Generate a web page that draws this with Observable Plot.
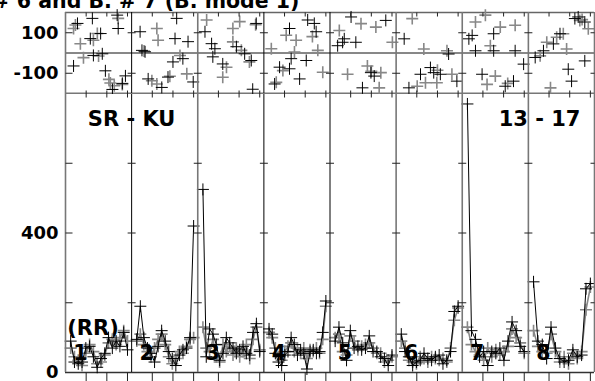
<!DOCTYPE html>
<html><head><meta charset="utf-8">
<script src="https://cdn.jsdelivr.net/npm/d3@7"></script>
<script src="https://cdn.jsdelivr.net/npm/@observablehq/plot@0.6"></script>
<style>
html,body{margin:0;padding:0;background:#fff;}
#chart{position:relative;width:595px;height:381px;overflow:hidden;background:#fff;}
#chart svg{position:absolute;left:0;top:0;}
</style></head><body><div id="chart"></div>
<script>
// ---------- data ----------
const titleText = "# 6 and B. # 7 (B. mode 1)";
const panelLabels = ["1","2","3","4","5","6","7","8"];
const panelSpan = 32;                 // samples per panel (x units)
const xTickOffsets = [10, 20, 30];
const topYTicks = [-100, 100];
const topYDomain = [-200, 200];
const botYTicks = [200, 400, 600];
const botYLabels = [0, 400];
const botYDomain = [0, 800];

// top panel scatter: [sample, value] per panel
const topBlack = [
  [[5.8,146],[13,171],[25,187],[25.5,121],[17,96],[12,71],[17.8,-4],[3.9,-64],[19.3,-88],[22.7,-180],[29,-113],[13.5,-12],[27.5,-150]],
  [[4.1,105],[21.8,171],[21,71],[27.3,56],[5,13],[6.5,6],[24.8,-28],[20,-44],[17.6,-119],[8,-128],[14.6,-170],[29.8,-143]],
  [[28.3,146],[3.5,105],[6.7,46],[8.3,21],[18.7,31],[22.7,-4],[25.9,-37],[12.1,-54],[26.6,-179],[7.3,-19]],
  [[12.4,121],[21.2,163],[24.4,146],[25.3,105],[7.6,-70],[12.4,-78],[17.3,-128],[5.2,-153],[20.5,-37],[13.2,-28]],
  [[10.2,178],[27,161],[6.9,70],[6.1,53],[12.5,53],[19.8,-97],[21.4,-114],[15.7,-172],[3.7,36]],
  [[3.9,70],[25.4,-5],[16.6,-72],[18.2,-97],[21.4,-105],[6.2,-172],[11.8,-105],[29.4,-139]],
  [[4.8,87],[3.2,70],[15.2,95],[6.4,11],[15.2,11],[25.6,11],[29.7,-55],[9.6,-105],[24.8,-139],[20.8,-164]],
  [[3.3,-22],[7.3,11],[12.1,45],[15.3,95],[22.5,170],[24.1,178],[27.3,153],[27.3,-39],[19.3,-80],[20.9,-139]]
];
const topGrey = [
  [[4.8,138],[3.9,121],[25.5,171],[15.4,96],[7.2,46],[13.5,63],[8.7,-23],[21.7,-148],[23.6,-162],[27.5,-155],[21,-130],[16,-15]],
  [[12.2,121],[12.8,63],[23.4,-12],[9.8,-137],[26.7,-103],[12.2,-153],[18.5,-115],[6,10]],
  [[4.3,163],[20.3,155],[17,121],[17,55],[21.1,13],[25,-44],[13.9,-70],[12.1,-120],[28,140]],
  [[3.6,21],[10.8,88],[15.6,63],[23.5,81],[26.1,13],[14.8,5],[9.2,-87],[28.5,-95],[6,-145]],
  [[15,145],[22.2,128],[4.5,111],[30.2,53],[8.5,-105],[18.1,-64],[24.6,-97],[23.8,-172],[20,-90]],
  [[7.8,170],[13.4,20],[24.6,11],[27,-105],[14.2,-147],[19.7,-147],[10.2,-164],[20,-85]],
  [[11.2,187],[6.4,153],[18.4,128],[25.6,137],[13.6,36],[16,-114],[12,-155],[22,-150]],
  [[5.7,-14],[8.9,53],[13.7,78],[16.9,95],[18.5,20],[24.9,161],[29,120],[10.7,-172],[26,165]]
];

// bottom panel (RR) series per panel
const rrBlack = [
  [90,30,25,30,70,75,45,15,40,55,100,70,90,75,115,65],
  [95,190,100,70,55,30,75,120,90,60,40,20,50,65,70,100,420],
  [525,45,125,110,80,35,55,100,85,70,55,65,75,55,50,115,140,60],
  [125,110,55,30,20,50,60,100,80,50,65,55,10,60,65,55,60,115,205],
  [90,130,85,35,120,70,75,65,70,105,60,60,45,40,20,50],
  [110,60,45,20,30,35,55,40,35,45,50,25,35,60,175,190],
  [770,120,95,45,60,20,60,55,70,35,90,145,120,75,60],
  [260,90,80,40,130,70,40,30,35,65,45,50,240,255]
];
const rrGrey = [
  [70,45,35,20,55,80,60,25,30,50,85,95,80,100,120,90],
  [90,110,80,60,45,70,95,110,80,45,25,40,60,55,75,95,100],
  [130,70,60,95,45,30,80,60,75,50,70,45,60,80,40,95,130,65],
  [115,100,70,45,35,60,75,85,60,70,55,70,40,65,60,70,55,95,190],
  [100,110,60,50,105,90,65,75,80,85,70,55,55,30,35,45],
  [90,70,35,30,25,45,40,30,45,40,35,40,30,70,150,185],
  [130,80,60,50,35,70,45,65,50,60,75,125,100,85,55],
  [120,75,60,55,110,60,30,45,25,55,40,60,180,245]
];

const annotations = [
  {text: "SR - KU", panel: 1, at: 0, value: 725},
  {text: "13 - 17", panel: 7, at: 5.4, value: 725},
  {text: "(RR)", panel: 0, at: 13.3, value: 128}
];

// ---------- styles ----------
const FONT = "DejaVu Sans";
const sepStroke = ["#777","#000","#777","#000","#000","#777","#777","#777","#777"];

// ---------- derived tables ----------
const nP = panelLabels.length;
const xDomain = [0, nP * panelSpan];
const seps = d3.range(nP + 1).map(k => ({x: k * panelSpan, c: sepStroke[k]}));
const innerSepX = d3.range(1, nP).map(k => k * panelSpan);
const xTicks = d3.range(nP).flatMap(k => xTickOffsets.map(o => k * panelSpan + o));
const toPts = (arr) => arr.flatMap((list, k) => list.map(([t, v]) => ({x: k * panelSpan + t, y: v})));
const topBlackPts = toPts(topBlack), topGreyPts = toPts(topGrey);
const toSeries = (arr) => arr.flatMap((vals, k) => vals.map((v, i) => ({
  panel: k, x: k * panelSpan + 2.5 + i * 27.5 / (vals.length - 1), y: v})));
const rrBlackPts = toSeries(rrBlack), rrGreyPts = toSeries(rrGrey);
const annPts = annotations.map(a => ({text: a.text, x: a.panel * panelSpan + a.at, y: a.value}));
const numPts = panelLabels.map((t, k) => ({text: t, x: k * panelSpan + 7.2, y: 56}));

// ---------- symbols ----------
const len = s => Math.sqrt(s / Math.PI);
const cross = {draw(c, s){const r = len(s); c.moveTo(-r,0); c.lineTo(r,0); c.moveTo(0,-r); c.lineTo(0,r);}};
const hC = {draw(c, s){const r = len(s); c.moveTo(-r,0); c.lineTo(r,0);}};
const hRight = {draw(c, s){const r = len(s); c.moveTo(0,0); c.lineTo(r,0);}};
const hLeft = {draw(c, s){const r = len(s); c.moveTo(0,0); c.lineTo(-r,0);}};
const vDown = {draw(c, s){const r = len(s); c.moveTo(0,0); c.lineTo(0,r);}};
const vC = {draw(c, s){const r = len(s); c.moveTo(0,-r); c.lineTo(0,r);}};

const tickMark = (data, opts) => Plot.dot(data, {fill: "none", stroke: "#222", strokeWidth: 1, ...opts});

function yTickMarks(vals, lo, hi) {
  return [
    tickMark(innerSepX.flatMap(x => vals.map(y => ({x, y}))), {x: "x", y: "y", symbol: hC, r: 4}),
    tickMark(vals.map(y => ({x: lo, y})), {x: "x", y: "y", symbol: hRight, r: 7}),
    tickMark(vals.map(y => ({x: hi, y})), {x: "x", y: "y", symbol: hLeft, r: 4})
  ];
}

const chart = document.getElementById("chart");

// ---------- bottom plot (RR) ----------
const bottomPlot = Plot.plot({
  width: 595, height: 381,
  marginLeft: 65, marginRight: 1, marginTop: 93, marginBottom: 9,
  x: {domain: xDomain, axis: null},
  y: {domain: botYDomain, axis: null},
  style: {background: "transparent", overflow: "hidden"},
  marks: [
    Plot.text(annPts, {x: "x", y: "y", text: "text", fontSize: 21, fontWeight: "bold", fontFamily: FONT, fill: "#000"}),
    Plot.ruleY([0], {stroke: "#333", strokeWidth: 1.3}),
    Plot.line(rrGreyPts, {x: "x", y: "y", z: "panel", stroke: "#888", strokeWidth: 1.6}),
    Plot.dot(rrGreyPts, {x: "x", y: "y", symbol: cross, r: 6, fill: "none", stroke: "#888", strokeWidth: 1.6}),
    Plot.text(numPts, {x: "x", y: "y", text: "text", fontSize: 20.5, fontWeight: "bold", fontFamily: FONT, fill: "#000"}),
    Plot.line(rrBlackPts, {x: "x", y: "y", z: "panel", stroke: "#000", strokeWidth: 1}),
    Plot.dot(rrBlackPts, {x: "x", y: "y", symbol: cross, r: 6, fill: "none", stroke: "#000", strokeWidth: 1}),
    Plot.ruleX(seps, {x: "x", stroke: "c", strokeWidth: d => d.c === "#000" ? 1 : 1.6}),
    ...yTickMarks(botYTicks, xDomain[0], xDomain[1]),
    tickMark(xTicks.map(x => ({x, y: botYDomain[1]})), {x: "x", y: "y", symbol: vDown, r: 4}),
    tickMark(xTicks.map(x => ({x, y: botYDomain[0]})), {x: "x", y: "y", symbol: vDown, r: 9}),
    Plot.axisY({ticks: botYLabels, tickSize: 0, tickPadding: 7, tickFormat: d => String(d), fontSize: 18, fontWeight: "bold", fontFamily: FONT, label: null})
  ]
});
chart.appendChild(bottomPlot);

// ---------- top plot (scatter) ----------
const topPlot = Plot.plot({
  width: 595, height: 94,
  marginLeft: 65, marginRight: 1, marginTop: 12, marginBottom: 1,
  x: {domain: xDomain, axis: null},
  y: {domain: topYDomain, axis: null},
  style: {background: "transparent", overflow: "hidden"},
  marks: [
    Plot.text([titleText], {text: d => d, frameAnchor: "top-left", dx: -73, dy: -5, lineAnchor: "bottom", textAnchor: "start", fontSize: 20.5, fontWeight: "bold", fontFamily: FONT, fill: "#000"}),
    Plot.ruleY([topYDomain[1]], {stroke: "#666", strokeWidth: 1.6}),
    Plot.ruleY([topYDomain[0]], {stroke: "#777", strokeWidth: 2}),
    Plot.ruleY([0], {stroke: "#111", strokeWidth: 1}),
    Plot.dot(topGreyPts, {x: "x", y: "y", symbol: cross, r: 6, fill: "none", stroke: "#888", strokeWidth: 1.6}),
    Plot.dot(topBlackPts, {x: "x", y: "y", symbol: cross, r: 6, fill: "none", stroke: "#000", strokeWidth: 1}),
    Plot.ruleX(seps, {x: "x", stroke: "c", strokeWidth: d => d.c === "#000" ? 1 : 1.6}),
    ...yTickMarks(topYTicks, xDomain[0], xDomain[1]),
    tickMark(xTicks.map(x => ({x, y: topYDomain[1]})), {x: "x", y: "y", symbol: vDown, r: 4}),
    tickMark(xTicks.map(x => ({x, y: topYDomain[0]})), {x: "x", y: "y", symbol: vC, r: 3}),
    Plot.axisY({ticks: topYTicks, tickSize: 0, tickPadding: 7, tickFormat: d => String(d), fontSize: 18, fontWeight: "bold", fontFamily: FONT, label: null})
  ]
});
chart.appendChild(topPlot);
</script>
</body></html>
